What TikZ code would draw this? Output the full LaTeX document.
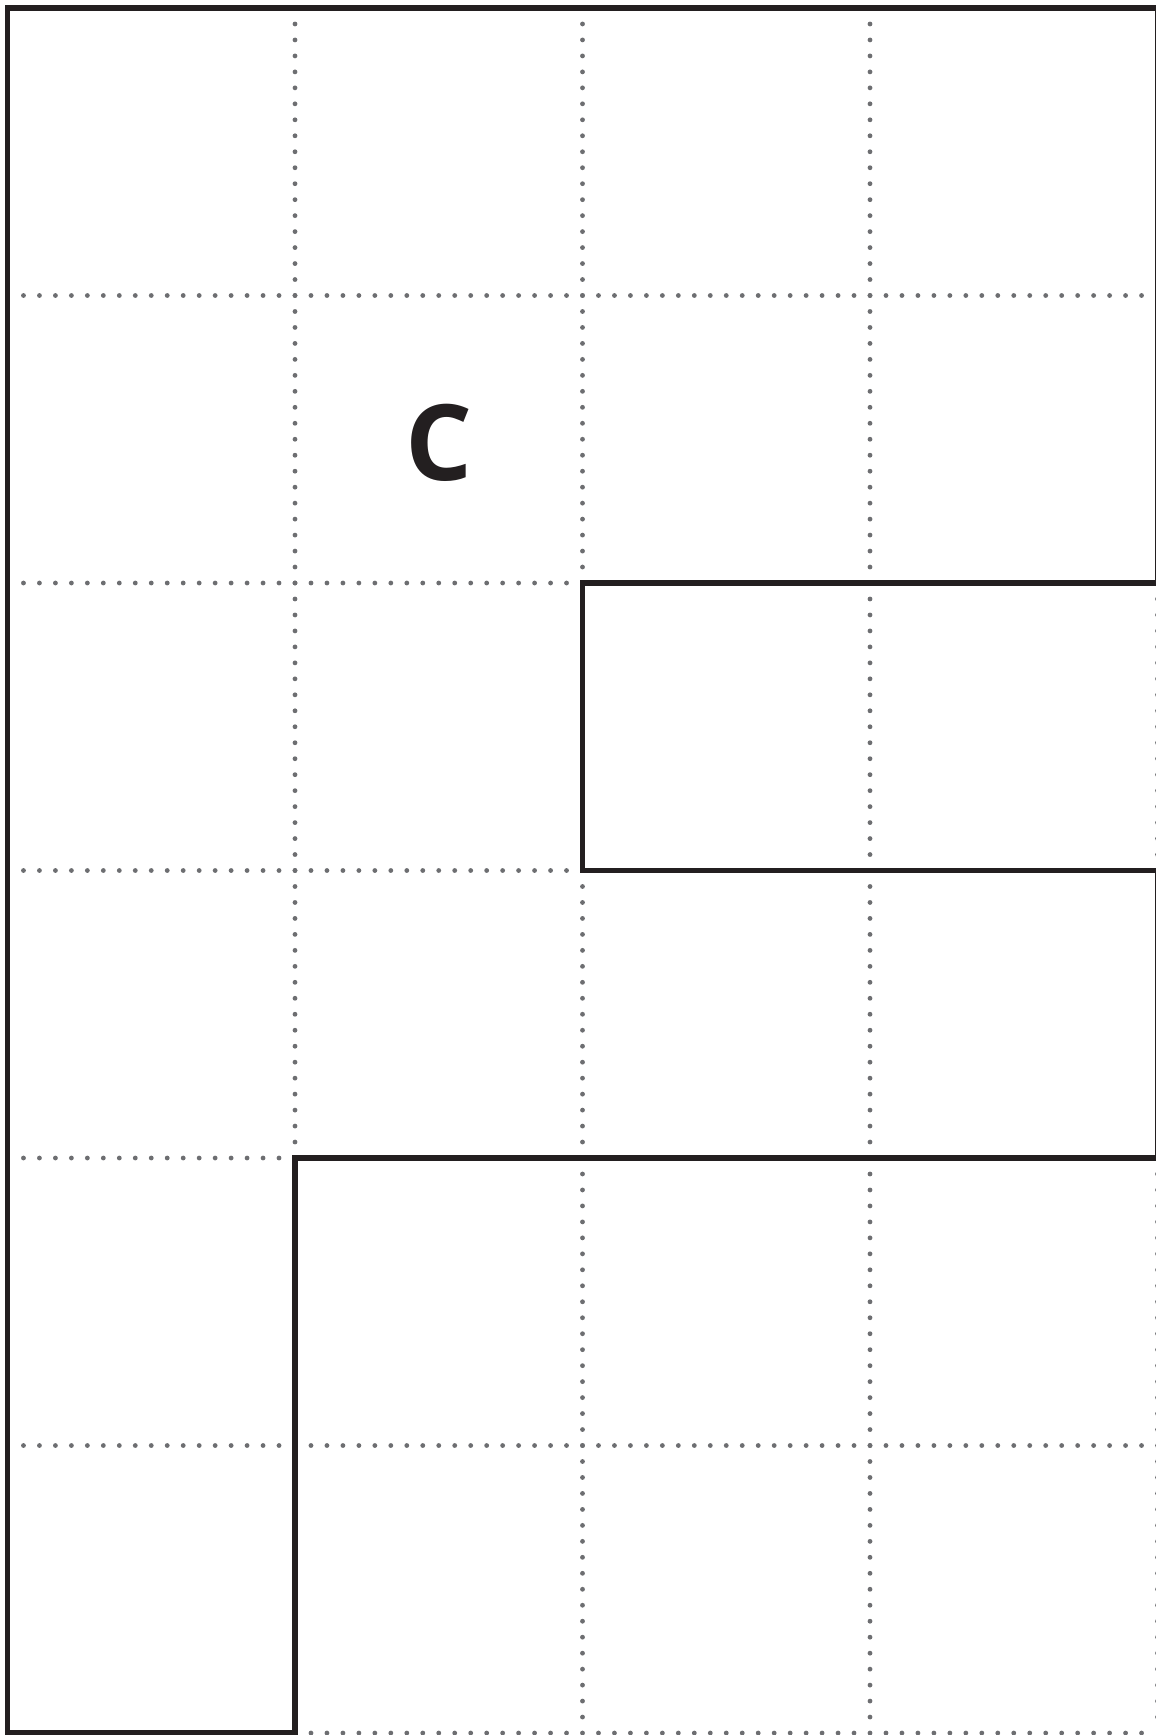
\documentclass[tikz,border=0pt]{standalone}
\usepackage{fontspec}
\setmainfont{Open Sans}
\definecolor{outline}{HTML}{231F20}
\definecolor{dotgray}{HTML}{6D6E71}
\begin{document}
\begin{tikzpicture}[x=0.25mm,y=-0.25mm,
  gridline/.style={dotgray,line width=1.2mm,line cap=round,dash pattern=on 0pt off 3.993mm},
  border/.style={outline,line width=1.4mm,line join=miter},
  letter/.style={font=\fontsize{75}{80}\selectfont\bfseries,text=outline,inner sep=0pt}]
\useasboundingbox (0,0) rectangle (1155,1735);
\fill[white] (0,0) rectangle (1155,1735);
% dotted grid
\foreach \i in {0,...,4} {
  \draw[gridline] (7.5+287.5*\i,8) -- (7.5+287.5*\i,1733);
}
\foreach \j in {0,...,6} {
  \draw[gridline] (7.5,8+287.5*\j) -- (1157.5,8+287.5*\j);
}
% thick outline
\draw[border] (1157.5,583) -- (582.5,583) -- (582.5,870.5) -- (1157.5,870.5);
\draw[border] (1157.5,583) -- (1157.5,8) -- (7.5,8) -- (7.5,1733) -- (295,1733) -- (295,1158) -- (1157.5,1158) -- (1157.5,870.5);
\node[letter] (c) at (438.75,443) {C};
\end{tikzpicture}
\end{document}
